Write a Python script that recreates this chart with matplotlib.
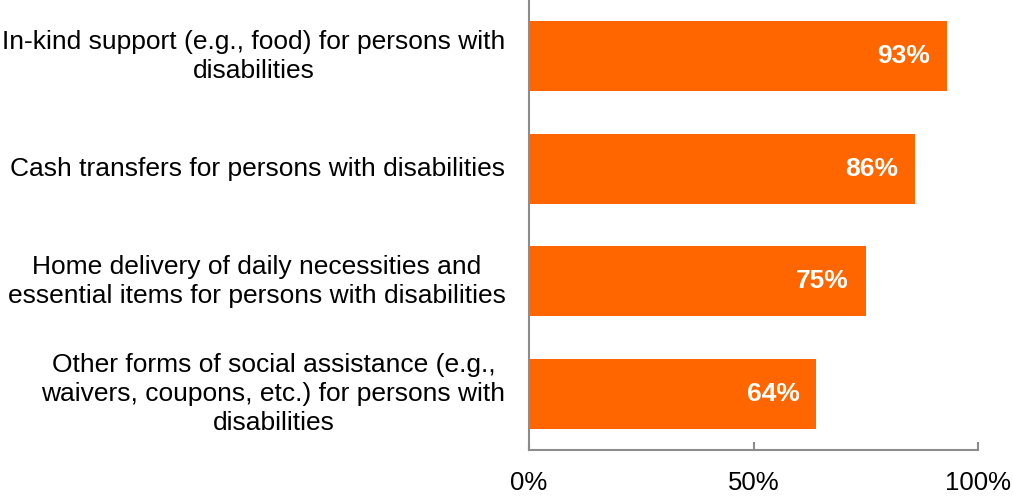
import matplotlib.pyplot as plt

plt.rcParams['font.family'] = ['Liberation Sans', 'DejaVu Sans']

categories = [
    "In-kind support (e.g., food) for persons with\ndisabilities",
    "Cash transfers for persons with disabilities",
    "Home delivery of daily necessities and\nessential items for persons with disabilities",
    "Other forms of social assistance (e.g.,\nwaivers, coupons, etc.) for persons with\ndisabilities",
]
values = [93, 86, 75, 64]
x_ticks = [0, 50, 100]
x_tick_labels = ["0%", "50%", "100%"]

bar_color = "#FF6600"
axis_color = "#8C8C8C"

fig = plt.figure(figsize=(10.13, 4.96), dpi=100)
ax = fig.add_axes([529 / 1013, 46 / 496, 449 / 1013, 450 / 496])

pos = list(range(len(categories)))
bars = ax.barh(pos, values, height=0.62, color=bar_color)

for p, v in zip(pos, values):
    ax.annotate(f"{v}%", xy=(v, p), xytext=(-12, 0), textcoords="offset points",
                ha="right", va="center", color="white", fontsize=19, fontweight="bold")

ax.set_xlim(0, 100)
ax.set_ylim(3.5, -0.5)
ax.set_yticks(pos)
ax.set_yticklabels(categories, fontsize=19)
plt.setp(ax.get_yticklabels(), multialignment="center", linespacing=1.25, va="center")
ax.tick_params(axis="y", length=0, pad=17)

ax.set_xticks(x_ticks)
ax.set_xticklabels(x_tick_labels, fontsize=18.5)
ax.tick_params(axis="x", direction="in", length=6, width=1.5, color=axis_color, pad=15)

for side in ["top", "right"]:
    ax.spines[side].set_visible(False)
for side in ["left", "bottom"]:
    ax.spines[side].set_color(axis_color)
    ax.spines[side].set_linewidth(1.5)

fig.savefig("out.png", dpi=100)
